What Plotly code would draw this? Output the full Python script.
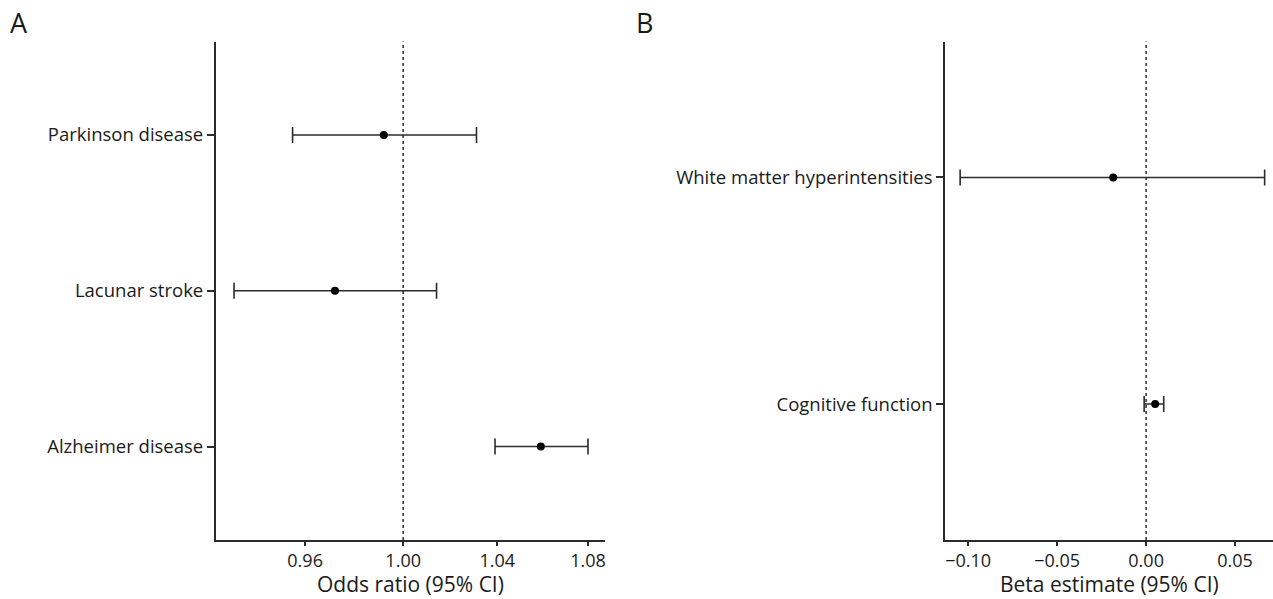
import plotly.graph_objects as go

# Panel A data (odds ratios)
a_categories = ["Alzheimer disease", "Lacunar stroke", "Parkinson disease"]
a_or = [1.059, 0.972, 0.992]
a_lo = [1.039, 0.932, 0.955]
a_hi = [1.080, 1.014, 1.031]
a_ticks = [0.96, 1.00, 1.04, 1.08]
a_ticktext = ["0.96", "1.00", "1.04", "1.08"]
a_title = "Odds ratio (95% CI)"

# Panel B data (beta estimates)
b_categories = ["Cognitive function", "White matter hyperintensities"]
b_beta = [0.0051, -0.0185]
b_lo = [-0.0011, -0.1045]
b_hi = [0.0099, 0.0666]
b_ticks = [-0.10, -0.05, 0.00, 0.05]
b_ticktext = ["\u22120.10", "\u22120.05", "0.00", "0.05"]
b_title = "Beta estimate (95% CI)"

FONT = "Open Sans"
INK = "#1a1a1a"
LINE = "#2b2b2b"

fig = go.Figure()

fig.add_trace(go.Scatter(
    x=a_or, y=a_categories, mode="markers",
    marker=dict(color="black", size=8),
    error_x=dict(type="data", symmetric=False,
                 array=[h - p for h, p in zip(a_hi, a_or)],
                 arrayminus=[p - l for p, l in zip(a_or, a_lo)],
                 color=LINE, thickness=1.6, width=8),
    xaxis="x", yaxis="y", showlegend=False, hoverinfo="x+y"))

fig.add_trace(go.Scatter(
    x=b_beta, y=b_categories, mode="markers",
    marker=dict(color="black", size=8),
    error_x=dict(type="data", symmetric=False,
                 array=[h - p for h, p in zip(b_hi, b_beta)],
                 arrayminus=[p - l for p, l in zip(b_beta, b_lo)],
                 color=LINE, thickness=1.6, width=8),
    xaxis="x2", yaxis="y2", showlegend=False, hoverinfo="x+y"))

ydom = [1 - 540 / 599, 1 - 41.5 / 599]
common_axis = dict(showline=True, linecolor=LINE, linewidth=1.5, ticks="outside",
                   tickcolor=LINE, tickwidth=1.5, showgrid=False, zeroline=False,
                   automargin=False)
xfont = dict(family=FONT, size=18, color=INK)
yfont = dict(family=FONT, size=18.5, color=INK)
tfont = dict(family=FONT, size=21, color=INK)

fig.update_layout(
    width=1273, height=599,
    margin=dict(l=0, r=0, t=0, b=0),
    paper_bgcolor="white", plot_bgcolor="white",
    font=dict(family=FONT, color=INK),
    xaxis=dict(common_axis, domain=[215.7 / 1273, 605 / 1273], type="log",
               range=[-0.0339, 0.0365], tickvals=a_ticks, ticktext=a_ticktext,
               ticklen=4, anchor="y", tickfont=xfont),
    yaxis=dict(common_axis, domain=ydom, type="category", categoryorder="array",
               categoryarray=a_categories, range=[-0.6, 2.6], ticklen=7, anchor="x",
               tickfont=yfont),
    xaxis2=dict(common_axis, domain=[945 / 1273, 1.0], range=[-0.113, 0.0713],
                tickvals=b_ticks, ticktext=b_ticktext, ticklen=4, anchor="y2",
                tickfont=xfont),
    yaxis2=dict(common_axis, domain=ydom, type="category", categoryorder="array",
                categoryarray=b_categories, range=[-0.6, 1.6], ticklen=7, anchor="x2",
                tickfont=yfont),
    shapes=[
        dict(type="line", xref="x", yref="y domain", x0=1.0, x1=1.0, y0=0, y1=1,
             line=dict(color=LINE, width=1.5, dash="dot"), layer="below"),
        dict(type="line", xref="x2", yref="y2 domain", x0=0.0, x1=0.0, y0=0, y1=1,
             line=dict(color=LINE, width=1.5, dash="dot"), layer="below"),
    ],
    annotations=[
        dict(text=a_title, xref="x domain", yref="paper", x=0.5, y=1 - 584 / 599,
             xanchor="center", yanchor="middle", showarrow=False, font=tfont),
        dict(text=b_title, xref="x2 domain", yref="paper", x=0.5, y=1 - 584 / 599,
             xanchor="center", yanchor="middle", showarrow=False, font=tfont),
        dict(text="A", xref="paper", yref="paper", x=8 / 1273, y=1 - 2 / 599,
             xanchor="left", yanchor="top", showarrow=False,
             font=dict(family=FONT, size=27, color=INK)),
        dict(text="B", xref="paper", yref="paper", x=634 / 1273, y=1 - 2 / 599,
             xanchor="left", yanchor="top", showarrow=False,
             font=dict(family=FONT, size=27, color=INK)),
    ],
)

fig.write_html("out.html", config={"displayModeBar": False},
               post_script="document.body.style.margin='0';document.body.style.overflow='hidden';")
